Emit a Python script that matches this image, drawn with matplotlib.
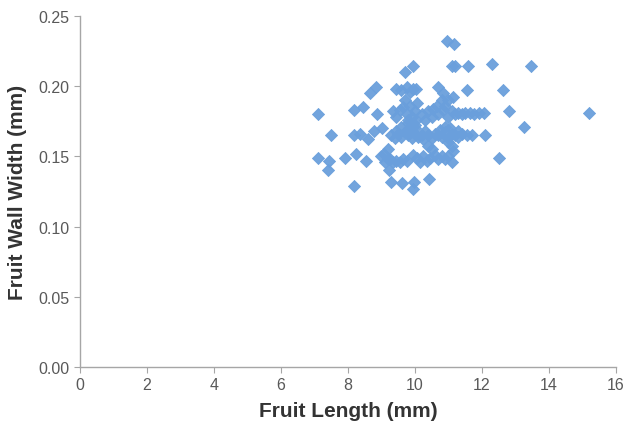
import numpy as np
import matplotlib
matplotlib.use("Agg")
import matplotlib.pyplot as plt

plt.rcParams['font.family'] = ['Liberation Sans', 'DejaVu Sans']

# fruit length (mm) vs fruit wall width (mm)
length_outer = [10.95, 11.17, 11.1, 11.2, 11.6, 12.3, 13.46, 9.94, 9.71, 12.64,
                12.81, 15.2, 13.26, 12.1, 12.5, 11.55, 11.9, 12.06, 7.12, 7.51,
                7.1, 7.45, 7.42, 7.9, 8.25, 8.19, 8.19, 8.46, 8.67, 8.85,
                8.55, 8.88, 8.17, 8.37, 8.6, 8.79, 9.02, 9.08, 9.2, 9.24,
                9.29, 9.62, 9.93, 9.98, 10.42]
width_outer = [0.232, 0.230, 0.214, 0.214, 0.214, 0.216, 0.214, 0.214, 0.210, 0.197,
               0.182, 0.181, 0.171, 0.165, 0.149, 0.197, 0.181, 0.181, 0.180, 0.165,
               0.149, 0.147, 0.140, 0.149, 0.152, 0.129, 0.183, 0.185, 0.195, 0.199,
               0.147, 0.180, 0.165, 0.166, 0.162, 0.168, 0.170, 0.152, 0.148, 0.140,
               0.132, 0.131, 0.127, 0.132, 0.134]

length_top = [9.45, 9.6, 9.75, 9.85, 9.95, 10.02, 10.7, 10.85, 11.0, 11.15,
              9.35, 9.45, 9.55, 9.65, 9.7, 9.75, 9.8, 9.85, 9.9, 10.0,
              10.05, 10.2, 10.3, 10.4, 10.5, 10.55, 10.65, 10.7, 10.8, 10.85,
              10.9, 11.0, 11.1, 11.2, 11.3, 11.4, 11.5, 11.65, 11.75,
              9.8, 9.82, 9.78, 10.0, 10.02]
width_top = [0.198, 0.197, 0.199, 0.196, 0.198, 0.198, 0.199, 0.195, 0.190, 0.192,
             0.182, 0.178, 0.183, 0.185, 0.190, 0.180, 0.176, 0.186, 0.178, 0.182,
             0.188, 0.180, 0.176, 0.182, 0.178, 0.184, 0.186, 0.180, 0.190, 0.183,
             0.186, 0.178, 0.182, 0.180, 0.181, 0.180, 0.181, 0.181, 0.180,
             0.174, 0.170, 0.168, 0.172, 0.176]

length_mid = [9.3, 9.4, 9.5, 9.6, 9.7, 9.8, 9.9, 10.0, 10.1, 10.2,
              10.3, 10.4, 10.5, 10.6, 10.7, 10.8, 10.9, 11.0, 11.1, 11.2,
              11.3, 11.4, 11.55, 11.7, 9.6, 10.0, 10.9, 11.3, 11.0, 11.1,
              11.15, 9.45, 10.25, 10.75, 11.05]
width_mid = [0.165, 0.163, 0.166, 0.164, 0.167, 0.165, 0.163, 0.166, 0.164, 0.165,
             0.168, 0.165, 0.163, 0.166, 0.165, 0.164, 0.167, 0.163, 0.166, 0.165,
             0.164, 0.166, 0.165, 0.165, 0.171, 0.170, 0.171, 0.168, 0.160, 0.157,
             0.154, 0.168, 0.162, 0.169, 0.170]

length_low = [9.0, 9.1, 9.25, 9.35, 9.45, 9.55, 9.65, 9.75, 9.95, 10.05,
              10.15, 10.25, 10.35, 10.45, 10.5, 10.6, 10.7, 10.8, 10.9, 11.0,
              11.1, 9.2, 10.4]
width_low = [0.150, 0.146, 0.148, 0.146, 0.147, 0.146, 0.148, 0.147, 0.151, 0.149,
             0.146, 0.150, 0.147, 0.149, 0.155, 0.151, 0.148, 0.150, 0.148, 0.150,
             0.146, 0.155, 0.157]

x_ticks = [0, 2, 4, 6, 8, 10, 12, 14, 16]
y_ticks = [0.00, 0.05, 0.10, 0.15, 0.20, 0.25]

fig = plt.figure(figsize=(6.24, 4.31), dpi=100)
ax = fig.add_axes([0.128, 0.146, 0.859, 0.815])

lengths = length_outer + length_top + length_mid + length_low
widths = width_outer + width_top + width_mid + width_low
ax.scatter(lengths, widths, marker='D', s=38, color='#6a9fdc', edgecolors='#6a9fdc',
           linewidths=0.6, alpha=0.95)

ax.set_xlim(0, 16)
ax.set_ylim(0, 0.25)
ax.set_xticks(x_ticks)
ax.set_yticks(y_ticks)
ax.set_yticklabels(['%.2f' % v for v in y_ticks])

for side in ['top', 'right']:
    ax.spines[side].set_visible(False)
for side in ['left', 'bottom']:
    ax.spines[side].set_color('#a6a6a6')
    ax.spines[side].set_linewidth(1.0)
ax.tick_params(axis='both', direction='out', length=4, color='#a6a6a6',
               labelsize=11.5, labelcolor='#595959')

ax.set_xlabel('Fruit Length (mm)', fontsize=15, fontweight='bold', color='#333333', labelpad=6)
ax.set_ylabel('Fruit Wall Width (mm)', fontsize=15, fontweight='bold', color='#333333', labelpad=8)

fig.savefig('out.png', dpi=100)
